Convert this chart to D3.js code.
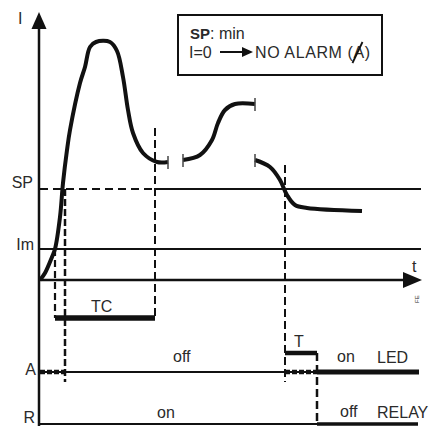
<!DOCTYPE html>
<html>
<head>
<meta charset="utf-8">
<script src="https://cdn.jsdelivr.net/npm/d3@7"></script>
<style>
  html, body { margin: 0; padding: 0; background: #fff; }
  svg { display: block; }
  text { font-family: "Liberation Sans", Arial, sans-serif; fill: #2a2a2a; }
</style>
</head>
<body>
<script>
// ---- data (time units, current units) ----
const timeDomain = [0, 380];
const currentDomain = [0, 240];

// current curve, three segments (time, current)
const seg1Time    = [0, 5, 12, 15, 20, 23, 27, 30, 40, 45, 50, 56, 70, 77, 83, 88, 93, 103, 117, 128];
const seg1Current = [0, 7, 23, 31, 63, 97, 130, 150, 197, 213, 233, 238, 238, 229, 203, 170, 147, 127, 118, 118];
const seg2Time    = [143, 160, 172, 178, 185, 195, 215];
const seg2Current = [120, 125, 140, 157, 170, 176, 176];
const seg3Time    = [215, 230, 240, 247, 255, 267, 322];
const seg3Current = [120, 113, 100, 85, 75, 72, 69];

// thresholds
const thresholdNames  = ["SP", "Im"];
const thresholdValues = [91, 31];

// event times
const eventNames = ["Im cross", "SP cross", "TC end", "SP fall", "T end"];
const eventTimes = [15, 25, 115, 245, 277];

// digital rows (virtual levels below zero)
const rowNames  = ["TC", "T", "A", "R"];
const rowLevels = [-38, -73, -92, -144];

// texts
const stateLabels = ["off", "on", "on", "off", "LED", "RELAY"];

// ---- scales ----
const W = 440, H = 426;
const x = d3.scaleLinear().domain(timeDomain).range([40, 420]);
const y = d3.scaleLinear().domain(currentDomain).range([280, 40]);

const svg = d3.select("body").append("svg").attr("width", W).attr("height", H);
svg.append("rect").attr("width", W).attr("height", H).attr("fill", "#fff");

const ink = "#111";
const lvl = name => rowLevels[rowNames.indexOf(name)];
const thr = name => thresholdValues[thresholdNames.indexOf(name)];
const ev  = name => eventTimes[eventNames.indexOf(name)];

function hline(t0, t1, v, w, dash, color) {
  const l = svg.append("line")
    .attr("x1", x(t0)).attr("x2", x(t1))
    .attr("y1", y(v)).attr("y2", y(v))
    .attr("stroke", color || ink).attr("stroke-width", w);
  if (dash) l.attr("stroke-dasharray", dash);
  return l;
}
function vline(t, v0, v1, w, dash) {
  const l = svg.append("line")
    .attr("x1", x(t)).attr("x2", x(t))
    .attr("y1", y(v0)).attr("y2", y(v1))
    .attr("stroke", ink).attr("stroke-width", w);
  if (dash) l.attr("stroke-dasharray", dash);
  return l;
}

// ---- threshold lines ----
hline(0, ev("TC end"), thr("SP"), 2, "8,5");
hline(ev("TC end"), 381, thr("SP"), 2);
hline(0, 381, thr("Im"), 2);

// time axis with arrow
hline(0, 366, 0, 2.5);
svg.append("path")
  .attr("d", `M${x(382)},${y(0)} L${x(363)},${y(0) - 8} L${x(363)},${y(0) + 8} Z`)
  .attr("fill", ink);

// lower rows
hline(0, ev("T end"), lvl("A"), 2);
hline(0, ev("SP cross"), lvl("A"), 4.5, "5,2");
hline(ev("SP fall"), ev("T end"), lvl("A"), 4.5, "5,2");
hline(ev("T end"), 379, lvl("A"), 5);
hline(0, ev("T end"), lvl("R"), 1.8);
hline(ev("T end"), 378, lvl("R"), 3.5);

// timer bars
hline(ev("Im cross"), ev("TC end"), lvl("TC"), 5.5);
hline(ev("SP fall"), ev("T end"), lvl("T"), 4.5);

// ---- vertical dashed event lines ----
vline(ev("Im cross"), thr("Im"), lvl("TC"), 2.2, "7,4");
vline(ev("SP cross"), thr("SP"), lvl("A") - 10, 2.5, "7,3");
vline(ev("TC end"), 152, lvl("TC"), 2, "8,4");
vline(ev("SP fall"), 115, lvl("A") - 10, 2, "8,4");
vline(ev("T end"), lvl("T"), lvl("R") - 1, 2.5, "8,4");

// ---- current curve ----
const line = d3.line().x(d => x(d[0])).y(d => y(d[1])).curve(d3.curveCatmullRom.alpha(0.5));
[[seg1Time, seg1Current], [seg2Time, seg2Current], [seg3Time, seg3Current]].forEach(([ts, vs]) => {
  svg.append("path")
    .attr("d", line(d3.zip(ts, vs)))
    .attr("fill", "none").attr("stroke", ink)
    .attr("stroke-width", 4).attr("stroke-linecap", "butt").attr("stroke-linejoin", "round");
});
// segment end ticks
[[seg1Time, seg1Current, seg1Time.length - 1], [seg2Time, seg2Current, 0],
 [seg2Time, seg2Current, seg2Time.length - 1], [seg3Time, seg3Current, 0]].forEach(([ts, vs, i]) => {
  svg.append("line")
    .attr("x1", x(ts[i])).attr("x2", x(ts[i]))
    .attr("y1", y(vs[i]) - 6).attr("y2", y(vs[i]) + 7)
    .attr("stroke", "#444").attr("stroke-width", 1.5);
});

// ---- vertical axis with arrow ----
svg.append("line").attr("x1", 39).attr("x2", 39).attr("y1", 26).attr("y2", H)
  .attr("stroke", ink).attr("stroke-width", 2.5);
svg.append("path").attr("d", "M39,12 L31.5,29 L46.5,29 Z").attr("fill", ink);

// ---- labels ----
const fs = 16;
function label(txt, px, py, opts = {}) {
  return svg.append("text").attr("x", px).attr("y", py)
    .attr("font-size", opts.size || fs)
    .attr("font-weight", opts.weight || "normal")
    .attr("text-anchor", opts.anchor || "start")
    .text(txt);
}
label("I", 18, 24);
label("t", 412, 272);
svg.append("text").attr("transform", "translate(419,303) rotate(-90)")
  .attr("font-size", 6).text("FE");
label(thresholdNames[0], 33, 188, { anchor: "end" });
label(thresholdNames[1], 34, 250, { anchor: "end" });
label(rowNames[2], 36, 375, { anchor: "end" });
label(rowNames[3], 35, 423, { anchor: "end" });
label(rowNames[0], 91, 312);
label(rowNames[1], 294, 347);
label(stateLabels[0], 173, 362);
label(stateLabels[1], 157, 418);
label(stateLabels[2], 337, 362);
label(stateLabels[3], 340, 417);
label(stateLabels[4], 377, 363);
label(stateLabels[5], 377, 418);

// ---- legend box ----
svg.append("rect").attr("x", 178).attr("y", 15).attr("width", 204).attr("height", 60)
  .attr("fill", "#fff").attr("stroke", ink).attr("stroke-width", 2);
const t1 = svg.append("text").attr("x", 190).attr("y", 39).attr("font-size", 15);
t1.append("tspan").attr("font-weight", "bold").text("SP");
t1.append("tspan").attr("font-size", 16).text(": min");
label("I=0", 189, 58);
svg.append("line").attr("x1", 220).attr("x2", 244).attr("y1", 52).attr("y2", 52)
  .attr("stroke", ink).attr("stroke-width", 2);
svg.append("path").attr("d", "M253,52 L242,47 L242,57 Z").attr("fill", ink);
const legendText = "NO ALARM (A)";
const t2 = label(legendText, 255, 58).attr("letter-spacing", 0.6);
// strike through the "A" inside the parentheses
let ax = 350, aw = 11;
try {
  const ext = t2.node().getExtentOfChar(legendText.lastIndexOf("A"));
  ax = ext.x; aw = ext.width;
} catch (e) {}
svg.append("line").attr("x1", ax - 1).attr("y1", 63).attr("x2", ax + aw * 0.8).attr("y2", 42)
  .attr("stroke", ink).attr("stroke-width", 1.8);
</script>
</body>
</html>
